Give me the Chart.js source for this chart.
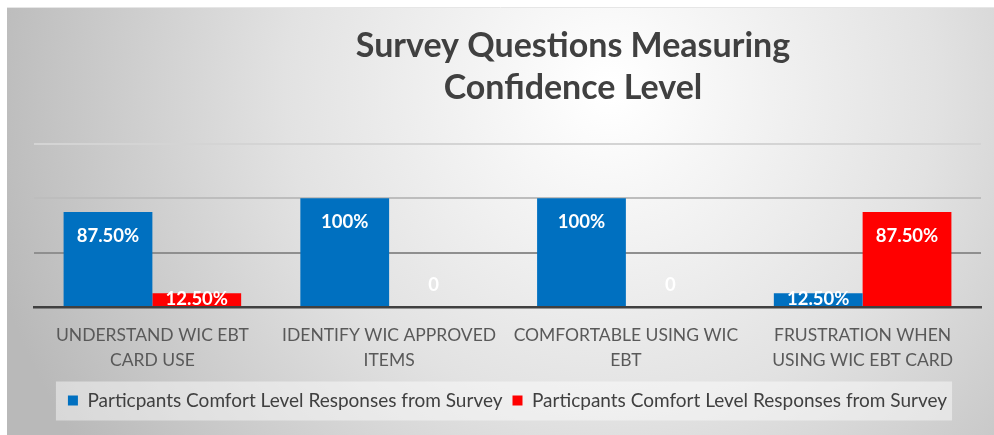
<!DOCTYPE html>
<html>
<head>
<meta charset="utf-8">
<script src="https://cdn.jsdelivr.net/npm/chart.js@4.4.0/dist/chart.umd.min.js"></script>
<style>
  html, body { margin: 0; padding: 0; background: #fff; }
  #wrap { width: 994px; height: 435px; position: relative; }
</style>
</head>
<body>
<div id="wrap"><canvas id="barChart" width="994" height="435"></canvas></div>
<script>
const categories = [
  ['UNDERSTAND WIC EBT', 'CARD USE'],
  ['IDENTIFY WIC APPROVED', 'ITEMS'],
  ['COMFORTABLE USING WIC', 'EBT'],
  ['FRUSTRATION WHEN', 'USING WIC EBT CARD'],
];
const seriesNames = [
  'Particpants Comfort Level Responses from Survey',
  'Particpants Comfort Level Responses from Survey',
];
const comfortYes = [0.875, 1, 1, 0.125];
const comfortNo = [0.125, 0, 0, 0.875];
const titleLines = ['Survey Questions Measuring', 'Confidence Level'];

const FONT = 'Lato, "Open Sans", sans-serif';

function fmt(v) {
  if (v === 0) return '0';
  if (v === 1) return '100%';
  return (v * 100).toFixed(2) + '%';
}

// gray gradient panel behind everything
const panelBg = {
  id: 'panelBg',
  beforeDraw(chart) {
    const ctx = chart.ctx;
    ctx.save();
    ctx.fillStyle = '#ffffff';
    ctx.fillRect(0, 0, chart.width, chart.height);
    const g = ctx.createRadialGradient(610, 90, 10, 610, 90, 640);
    g.addColorStop(0, '#ffffff');
    g.addColorStop(0.5, '#e2e2e2');
    g.addColorStop(1, '#b9b9b9');
    ctx.fillStyle = g;
    ctx.fillRect(7, 8, chart.width - 7, chart.height - 8);
    ctx.strokeStyle = '#e6e6e6';
    ctx.lineWidth = 1;
    ctx.beginPath();
    ctx.moveTo(7, 7.5); ctx.lineTo(chart.width, 7.5);
    ctx.stroke();

    // legend backdrop
    const lg = chart.legend;
    if (lg && lg.legendHitBoxes && lg.legendHitBoxes.length) {
      const hb = lg.legendHitBoxes;
      const left = hb[0].left - 12;
      const last = hb[hb.length - 1];
      const right = last.left + last.width + 5;
      const cy = hb[0].top + hb[0].height / 2;
      ctx.fillStyle = 'rgba(255,255,255,0.45)';
      ctx.fillRect(left, cy - 19, right - left, 39);
    }
    ctx.restore();
  }
};

// title drawn off-centre like the original
const offTitle = {
  id: 'offTitle',
  afterDraw(chart) {
    const ctx = chart.ctx;
    ctx.save();
    ctx.font = 'bold 34px ' + FONT;
    ctx.fillStyle = '#404040';
    ctx.textAlign = 'center';
    ctx.textBaseline = 'middle';
    ctx.fillText(titleLines[0], 573, 46);
    ctx.fillText(titleLines[1], 573, 88);
    ctx.restore();
  }
};

// white value labels at the inside end of the bars
const barLabels = {
  id: 'barLabels',
  afterDatasetsDraw(chart) {
    const ctx = chart.ctx;
    ctx.save();
    ctx.font = 'bold 18.5px ' + FONT;
    ctx.fillStyle = '#ffffff';
    ctx.textAlign = 'center';
    ctx.textBaseline = 'middle';
    chart.data.datasets.forEach((ds, i) => {
      const meta = chart.getDatasetMeta(i);
      meta.data.forEach((bar, j) => {
        const v = ds.data[j];
        let y;
        if (v === 0) y = bar.base - 22;
        else y = Math.min(bar.y + 24, bar.base - 7);
        ctx.fillText(fmt(v), bar.x, y);
      });
    });
    ctx.restore();
  }
};

const gridColors = { 0.5: '#8f8f8f', 1: '#bdbdbd', 1.5: '#d4d4d4' };

new Chart(document.getElementById('barChart').getContext('2d'), {
  type: 'bar',
  data: {
    labels: categories,
    datasets: [
      {
        label: seriesNames[0],
        data: comfortYes,
        backgroundColor: '#0070C0',
        borderWidth: 0,
        categoryPercentage: 0.75,
        barPercentage: 1.0,
      },
      {
        label: seriesNames[1],
        data: comfortNo,
        backgroundColor: '#FF0000',
        borderWidth: 0,
        categoryPercentage: 0.75,
        barPercentage: 1.0,
      },
    ],
  },
  options: {
    responsive: false,
    animation: false,
    layout: { padding: { left: 34, right: 13, top: 144, bottom: 15 } },
    scales: {
      x: {
        grid: { display: false },
        border: { display: true, color: '#404040', width: 2.5 },
        ticks: {
          color: '#595959',
          font: { family: FONT, size: 17.5, lineHeight: 1.43 },
          padding: 8,
          maxRotation: 0,
        },
      },
      y: {
        min: 0,
        max: 1.5,
        border: { display: false },
        grid: {
          drawTicks: false,
          lineWidth: 2,
          color: (c) => gridColors[c.tick && c.tick.value] || 'rgba(0,0,0,0)',
        },
        ticks: { display: false, stepSize: 0.5, padding: 0 },
      },
    },
    plugins: {
      legend: {
        position: 'bottom',
        labels: {
          color: '#404040',
          font: { family: FONT, size: 19 },
          boxWidth: 10,
          boxHeight: 10,
          padding: 10,
        },
      },
      title: { display: false },
      tooltip: { enabled: false },
    },
  },
  plugins: [panelBg, offTitle, barLabels],
});
</script>
</body>
</html>
